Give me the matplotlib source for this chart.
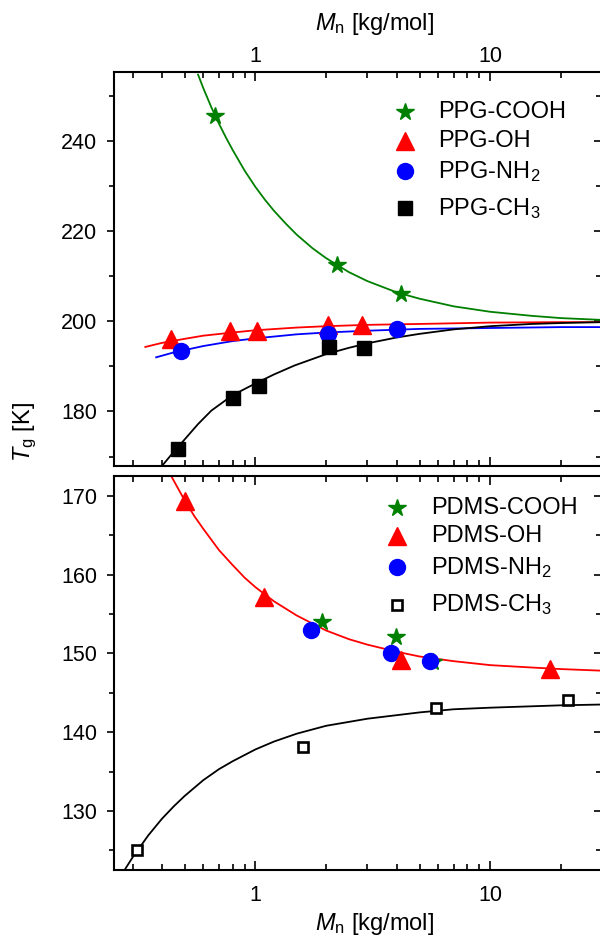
import matplotlib
matplotlib.use("Agg")
import matplotlib.pyplot as plt
from matplotlib.ticker import FixedLocator, NullFormatter, LogLocator, MultipleLocator, FixedFormatter

plt.rcParams['font.family'] = ['Liberation Sans', 'DejaVu Sans']
plt.rcParams['mathtext.fontset'] = 'custom'
plt.rcParams['mathtext.rm'] = 'Liberation Sans'
plt.rcParams['mathtext.it'] = 'Liberation Sans:italic'

# ---------------- data: PPG (top panel) ----------------
ppg_cooh_m = [0.676, 2.23, 4.18]
ppg_cooh_t = [245.5, 212.4, 206.1]
ppg_oh_m = [0.438, 0.783, 1.02, 2.04, 2.84]
ppg_oh_t = [196.1, 197.8, 197.8, 199.2, 199.2]
ppg_nh2_m = [0.48, 2.04, 4.01]
ppg_nh2_t = [193.5, 197.2, 198.3]
ppg_ch3_m = [0.467, 0.804, 1.04, 2.06, 2.89]
ppg_ch3_t = [171.6, 182.9, 185.6, 194.2, 194.1]

# fit curves
fit_ppg_cooh_m = [0.57, 0.6, 0.65, 0.7, 0.75, 0.8, 0.9, 1.0, 1.1, 1.2, 1.35, 1.5, 1.75, 2.0, 2.5, 3.0, 4.0, 5.0, 7.0, 10, 15, 20, 29.7]
fit_ppg_cooh_t = [254.7, 251.7, 247.4, 243.8, 240.7, 238.0, 233.4, 229.8, 226.9, 224.5, 221.6, 219.2, 216.2, 214.0, 210.9, 208.9, 206.4, 205.0, 203.3, 202.1, 201.2, 200.7, 200.3]
fit_ppg_oh_m = [0.34, 0.4, 0.5, 0.6, 0.8, 1.0, 1.5, 2.0, 3.0, 5.0, 10, 20, 29.7]
fit_ppg_oh_t = [194.3, 195.2, 196.1, 196.8, 197.5, 198.0, 198.6, 198.9, 199.2, 199.4, 199.7, 199.8, 199.8]
fit_ppg_nh2_m = [0.378, 0.45, 0.5, 0.6, 0.8, 1.0, 1.5, 2.0, 3.0, 5.0, 10, 20, 29.7]
fit_ppg_nh2_t = [192.0, 193.1, 193.6, 194.5, 195.6, 196.2, 197.1, 197.5, 197.9, 198.3, 198.5, 198.7, 198.7]
fit_ppg_ch3_m = [0.40, 0.45, 0.5, 0.57, 0.65, 0.8, 1.0, 1.2, 1.47, 2.0, 2.5, 3.0, 4.0, 5.0, 7.0, 10, 15, 20, 29.7]
fit_ppg_ch3_t = [167.9, 171.1, 173.8, 177.2, 180.2, 183.6, 186.2, 188.2, 190.2, 192.7, 194.1, 195.1, 196.4, 197.2, 198.2, 198.9, 199.4, 199.6, 199.8]

# ---------------- data: PDMS (bottom panel) ----------------
pdms_cooh_m = [1.93, 3.98, 5.73]
pdms_cooh_t = [154.0, 152.1, 148.9]
pdms_oh_m = [0.50, 1.085, 4.18, 17.9]
pdms_oh_t = [169.3, 157.1, 149.2, 148.0]
pdms_nh2_m = [1.73, 3.79, 5.55]
pdms_nh2_t = [153.0, 150.1, 149.0]
pdms_ch3_m = [0.312, 1.59, 5.87, 21.4]
pdms_ch3_t = [125.1, 138.1, 143.0, 144.1]

fit_pdms_oh_m = [0.44, 0.5, 0.55, 0.6, 0.7, 0.8, 0.9, 1.0, 1.2, 1.5, 2.0, 2.5, 3.0, 4.0, 5.0, 7.0, 10, 15, 20, 29.7]
fit_pdms_oh_t = [172.4, 169.4, 167.4, 165.8, 163.1, 161.2, 159.6, 158.4, 156.6, 154.8, 152.9, 151.8, 151.1, 150.2, 149.6, 149.0, 148.5, 148.2, 148.0, 147.8]
fit_pdms_ch3_m = [0.28, 0.3, 0.35, 0.4, 0.45, 0.5, 0.6, 0.7, 0.8, 1.0, 1.2, 1.5, 2.0, 3.0, 5.0, 7.0, 10, 20, 29.7]
fit_pdms_ch3_t = [122.7, 124.1, 126.9, 129.0, 130.6, 131.9, 133.9, 135.3, 136.3, 137.8, 138.8, 139.8, 140.8, 141.7, 142.5, 142.9, 143.1, 143.4, 143.5]

x_major = [1, 10]
x_major_labels = ['1', '10']

GREEN = '#008000'
RED = '#ff0000'
BLUE = '#0000ff'
BLACK = '#000000'

TICK_FS = 15.5
LAB_FS = 17
LEG_FS = 17

MS_STAR, MS_TRI, MS_CIR, MS_SQ = 13, 13.5, 11.5, 10

fig = plt.figure(figsize=(6.0, 9.38), dpi=100)
ax1 = fig.add_axes([0.19, 0.5032, 0.812, 0.4197])
ax2 = fig.add_axes([0.19, 0.0725, 0.812, 0.42])

# ---- top panel ----
lw = 1.3
ax1.plot(fit_ppg_cooh_m, fit_ppg_cooh_t, color=GREEN, lw=lw)
ax1.plot(fit_ppg_oh_m, fit_ppg_oh_t, color=RED, lw=lw)
ax1.plot(fit_ppg_nh2_m, fit_ppg_nh2_t, color=BLUE, lw=lw)
ax1.plot(fit_ppg_ch3_m, fit_ppg_ch3_t, color=BLACK, lw=lw)
ax1.plot(ppg_cooh_m, ppg_cooh_t, ls='none', marker='*', ms=MS_STAR, color=GREEN, mec=GREEN)
ax1.plot(ppg_oh_m, ppg_oh_t, ls='none', marker='^', ms=MS_TRI, color=RED, mec=RED)
ax1.plot(ppg_nh2_m, ppg_nh2_t, ls='none', marker='o', ms=MS_CIR, color=BLUE, mec=BLUE)
ax1.plot(ppg_ch3_m, ppg_ch3_t, ls='none', marker='s', ms=MS_SQ, color=BLACK, mec=BLACK)

# ---- bottom panel ----
ax2.plot(fit_pdms_oh_m, fit_pdms_oh_t, color=RED, lw=lw)
ax2.plot(fit_pdms_ch3_m, fit_pdms_ch3_t, color=BLACK, lw=lw)
ax2.plot(pdms_cooh_m, pdms_cooh_t, ls='none', marker='*', ms=MS_STAR, color=GREEN, mec=GREEN)
ax2.plot(pdms_nh2_m, pdms_nh2_t, ls='none', marker='o', ms=MS_CIR, color=BLUE, mec=BLUE)
ax2.plot(pdms_oh_m, pdms_oh_t, ls='none', marker='^', ms=MS_TRI, color=RED, mec=RED)
ax2.plot(pdms_ch3_m, pdms_ch3_t, ls='none', marker='s', ms=7.5, mfc='white', mec=BLACK, mew=1.9)

ax1.set_ylim(167.9, 255.2)
ax2.set_ylim(122.5, 172.5)

for ax in (ax1, ax2):
    ax.set_xscale('log')
    ax.set_xlim(0.25, 29.7)
    ax.xaxis.set_major_locator(FixedLocator(x_major))
    ax.xaxis.set_major_formatter(FixedFormatter(x_major_labels))
    ax.xaxis.set_minor_locator(LogLocator(base=10, subs=[2, 3, 4, 5, 6, 7, 8, 9], numticks=20))
    ax.xaxis.set_minor_formatter(NullFormatter())
    for s in ax.spines.values():
        s.set_linewidth(1.5)
    ax.tick_params(axis='x', which='both', direction='in', top=True, bottom=True, width=1.2)
    ax.tick_params(axis='x', which='major', length=6.5, labelsize=TICK_FS)
    ax.tick_params(axis='x', which='minor', length=4.3)
    ax.tick_params(axis='y', which='both', direction='out', left=True, right=False, width=1.2, labelsize=TICK_FS)
    ax.tick_params(axis='y', which='major', length=5, pad=7)
    ax.tick_params(axis='y', which='minor', length=3.5)

ax1.yaxis.set_major_locator(MultipleLocator(20))
ax1.yaxis.set_minor_locator(MultipleLocator(10))
ax2.yaxis.set_major_locator(MultipleLocator(10))
ax2.yaxis.set_minor_locator(MultipleLocator(5))

for ax, maj, mnr in ((ax1, 20, 10), (ax2, 10, 5)):
    sec = ax.secondary_yaxis('right')
    sec.yaxis.set_major_locator(MultipleLocator(maj))
    sec.yaxis.set_minor_locator(MultipleLocator(mnr))
    sec.tick_params(axis='y', which='both', direction='in', labelright=False, width=1.2)
    sec.tick_params(axis='y', which='major', length=5)
    sec.tick_params(axis='y', which='minor', length=3.5)
    sec.spines['right'].set_linewidth(1.5)

ax1.tick_params(axis='x', which='both', labeltop=True, labelbottom=False)
ax1.tick_params(axis='x', which='major', pad=4)
ax2.tick_params(axis='x', which='both', labeltop=False, labelbottom=True)
ax2.tick_params(axis='x', which='major', pad=11)

ax1.xaxis.set_label_position('top')
ax1.set_xlabel(r'$M_\mathrm{n}$ [kg/mol]', fontsize=LAB_FS)
ax2.set_xlabel(r'$M_\mathrm{n}$ [kg/mol]', fontsize=LAB_FS)
ax1.xaxis.set_label_coords(0.535, 1.108)
ax2.xaxis.set_label_coords(0.535, -0.103)

fig.text(25 / 600, 1 - 432 / 938, r'$T_\mathrm{g}$ [K]', rotation=90, fontsize=LAB_FS,
         ha='center', va='center')

# ---- legends (manual, positioned in axes fraction) ----
def legend_entry(ax, xm, xt, y, label, **mk):
    ax.plot([xm], [y], transform=ax.transAxes, clip_on=False, ls='none', **mk)
    ax.text(xt, y, label, transform=ax.transAxes, fontsize=LEG_FS, va='center', ha='left')

legend_entry(ax1, 0.5975, 0.665, 0.900, 'PPG-COOH', marker='*', ms=MS_STAR, color=GREEN)
legend_entry(ax1, 0.5975, 0.665, 0.8255, 'PPG-OH', marker='^', ms=MS_TRI, color=RED)
legend_entry(ax1, 0.5975, 0.665, 0.749, r'PPG-NH$_2$', marker='o', ms=MS_CIR, color=BLUE)
legend_entry(ax1, 0.5975, 0.665, 0.655, r'PPG-CH$_3$', marker='s', ms=MS_SQ, color=BLACK)

legend_entry(ax2, 0.581, 0.651, 0.918, 'PDMS-COOH', marker='*', ms=MS_STAR, color=GREEN)
legend_entry(ax2, 0.581, 0.651, 0.848, 'PDMS-OH', marker='^', ms=MS_TRI, color=RED)
legend_entry(ax2, 0.581, 0.651, 0.768, r'PDMS-NH$_2$', marker='o', ms=MS_CIR, color=BLUE)
legend_entry(ax2, 0.581, 0.651, 0.673, r'PDMS-CH$_3$', marker='s', ms=7.5, mfc='white', mec=BLACK, mew=1.9)

fig.savefig('out.png', dpi=100)
